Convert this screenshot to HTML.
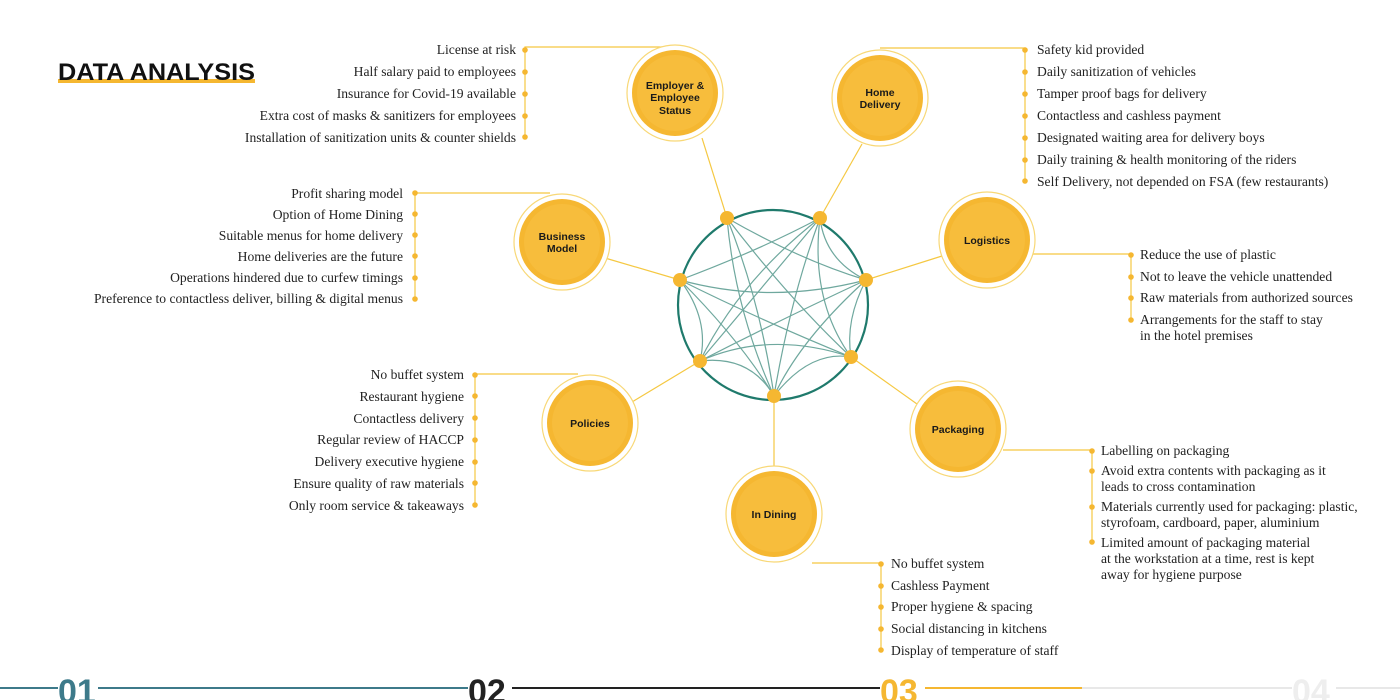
<!DOCTYPE html>
<html><head><meta charset="utf-8"><style>
body{margin:0;background:#fff;width:1400px;height:700px;overflow:hidden}
svg{display:block}
.t{font-family:"Liberation Serif",serif;font-size:13.6px;fill:#222}
.n{font-family:"Liberation Sans",sans-serif;font-size:10.5px;font-weight:bold;fill:#1a1a1a;text-anchor:middle}
.d{fill:#f5b731}
.l{stroke:#f5c842;stroke-width:1.2;fill:none}
.c{stroke:#6fa89e;stroke-width:1.2;fill:none}
.big{font-family:"Liberation Sans",sans-serif;font-size:34px;font-weight:bold}
</style></head><body>
<svg width="1400" height="700" viewBox="0 0 1400 700">
<rect x="58" y="79" width="197" height="4" fill="#f5b731"/>
<text x="58" y="80" font-family="Liberation Sans,sans-serif" font-size="24" font-weight="bold" fill="#111" textLength="197" lengthAdjust="spacingAndGlyphs">DATA ANALYSIS</text>

<g class="l">
<line x1="727" y1="218" x2="702" y2="138"/>
<line x1="820" y1="218" x2="862" y2="144"/>
<line x1="680" y1="280" x2="605" y2="258"/>
<line x1="866" y1="280" x2="942" y2="256"/>
<line x1="700" y1="361" x2="632" y2="402"/>
<line x1="851" y1="357" x2="917" y2="404"/>
<line x1="774" y1="396" x2="774" y2="466"/>
<polyline points="665,47 525,47 525,137"/>
<polyline points="880,48 1025,48 1025,181"/>
<polyline points="550,193 415,193 415,299"/>
<polyline points="1030,254 1131,254 1131,320"/>
<polyline points="578,374 475,374 475,505"/>
<polyline points="1003,450 1092,450 1092,542"/>
<polyline points="812,563 881,563 881,650"/>
</g>

<circle cx="773" cy="305" r="95" fill="none" stroke="#1f7a6c" stroke-width="2.2"/>
<g class="c">
<path d="M727,218 Q760,300 774,396"/>
<path d="M727,218 Q735,310 774,396"/>
<path d="M727,218 Q800,260 866,280"/>
<path d="M727,218 Q790,300 851,357"/>
<path d="M820,218 Q760,250 680,280"/>
<path d="M820,218 Q760,290 700,361"/>
<path d="M820,218 Q790,300 774,396"/>
<path d="M820,218 Q810,300 851,357"/>
<path d="M820,218 Q825,260 866,280"/>
<path d="M680,280 Q770,305 866,280"/>
<path d="M680,280 Q760,320 851,357"/>
<path d="M680,280 Q710,320 700,361"/>
<path d="M680,280 Q740,340 774,396"/>
<path d="M866,280 Q780,320 700,361"/>
<path d="M866,280 Q800,340 774,396"/>
<path d="M866,280 Q845,320 851,357"/>
<path d="M700,361 Q770,330 851,357"/>
<path d="M700,361 Q750,355 774,396"/>
<path d="M774,396 Q810,350 851,357"/>
<path d="M820,218 Q740,280 700,361"/>
</g>
<g class="d">
<circle cx="727" cy="218" r="7"/><circle cx="820" cy="218" r="7"/>
<circle cx="680" cy="280" r="7"/><circle cx="866" cy="280" r="7"/>
<circle cx="700" cy="361" r="7"/><circle cx="851" cy="357" r="7"/>
<circle cx="774" cy="396" r="7"/>
</g>

<g>
<g transform="translate(675,93)"><circle r="48" fill="#fff" stroke="#f8d877" stroke-width="1.2"/><circle r="43" fill="#f5b731"/><circle r="38" fill="#f7bd3c"/></g>
<g transform="translate(880,98)"><circle r="48" fill="#fff" stroke="#f8d877" stroke-width="1.2"/><circle r="43" fill="#f5b731"/><circle r="38" fill="#f7bd3c"/></g>
<g transform="translate(562,242)"><circle r="48" fill="#fff" stroke="#f8d877" stroke-width="1.2"/><circle r="43" fill="#f5b731"/><circle r="38" fill="#f7bd3c"/></g>
<g transform="translate(987,240)"><circle r="48" fill="#fff" stroke="#f8d877" stroke-width="1.2"/><circle r="43" fill="#f5b731"/><circle r="38" fill="#f7bd3c"/></g>
<g transform="translate(590,423)"><circle r="48" fill="#fff" stroke="#f8d877" stroke-width="1.2"/><circle r="43" fill="#f5b731"/><circle r="38" fill="#f7bd3c"/></g>
<g transform="translate(958,429)"><circle r="48" fill="#fff" stroke="#f8d877" stroke-width="1.2"/><circle r="43" fill="#f5b731"/><circle r="38" fill="#f7bd3c"/></g>
<g transform="translate(774,514)"><circle r="48" fill="#fff" stroke="#f8d877" stroke-width="1.2"/><circle r="43" fill="#f5b731"/><circle r="38" fill="#f7bd3c"/></g>
</g>
<text class="n" x="675" y="89">Employer &amp;</text>
<text class="n" x="675" y="101">Employee</text>
<text class="n" x="675" y="114">Status</text>
<text class="n" x="880" y="96">Home</text>
<text class="n" x="880" y="108">Delivery</text>
<text class="n" x="562" y="240">Business</text>
<text class="n" x="562" y="252">Model</text>
<text class="n" x="987" y="244">Logistics</text>
<text class="n" x="590" y="427">Policies</text>
<text class="n" x="958" y="433">Packaging</text>
<text class="n" x="774" y="518">In Dining</text>

<g class="t" text-anchor="end">
<text x="516" y="54">License at risk</text>
<text x="516" y="76">Half salary paid to employees</text>
<text x="516" y="98">Insurance for Covid-19 available</text>
<text x="516" y="120">Extra cost of masks &amp; sanitizers for employees</text>
<text x="516" y="142">Installation of sanitization units &amp; counter shields</text>
<text x="403" y="198">Profit sharing model</text>
<text x="403" y="219">Option of Home Dining</text>
<text x="403" y="240">Suitable menus for home delivery</text>
<text x="403" y="261">Home deliveries are the future</text>
<text x="403" y="282">Operations hindered due to curfew timings</text>
<text x="403" y="303">Preference to contactless deliver, billing &amp; digital menus</text>
<text x="464" y="379">No buffet system</text>
<text x="464" y="401">Restaurant hygiene</text>
<text x="464" y="423">Contactless delivery</text>
<text x="464" y="444">Regular review of HACCP</text>
<text x="464" y="466">Delivery executive hygiene</text>
<text x="464" y="488">Ensure quality of raw materials</text>
<text x="464" y="510">Only room service &amp; takeaways</text>
</g>
<g class="d">
<circle cx="525" cy="50" r="2.8"/><circle cx="525" cy="72" r="2.8"/><circle cx="525" cy="94" r="2.8"/><circle cx="525" cy="116" r="2.8"/><circle cx="525" cy="137" r="2.8"/>
<circle cx="415" cy="193" r="2.8"/><circle cx="415" cy="214" r="2.8"/><circle cx="415" cy="235" r="2.8"/><circle cx="415" cy="256" r="2.8"/><circle cx="415" cy="278" r="2.8"/><circle cx="415" cy="299" r="2.8"/>
<circle cx="475" cy="375" r="2.8"/><circle cx="475" cy="396" r="2.8"/><circle cx="475" cy="418" r="2.8"/><circle cx="475" cy="440" r="2.8"/><circle cx="475" cy="462" r="2.8"/><circle cx="475" cy="483" r="2.8"/><circle cx="475" cy="505" r="2.8"/>
<circle cx="1025" cy="50" r="2.8"/><circle cx="1025" cy="72" r="2.8"/><circle cx="1025" cy="94" r="2.8"/><circle cx="1025" cy="116" r="2.8"/><circle cx="1025" cy="138" r="2.8"/><circle cx="1025" cy="160" r="2.8"/><circle cx="1025" cy="181" r="2.8"/>
<circle cx="1131" cy="255" r="2.8"/><circle cx="1131" cy="277" r="2.8"/><circle cx="1131" cy="298" r="2.8"/><circle cx="1131" cy="320" r="2.8"/>
<circle cx="1092" cy="451" r="2.8"/><circle cx="1092" cy="471" r="2.8"/><circle cx="1092" cy="507" r="2.8"/><circle cx="1092" cy="542" r="2.8"/>
<circle cx="881" cy="564" r="2.8"/><circle cx="881" cy="586" r="2.8"/><circle cx="881" cy="607" r="2.8"/><circle cx="881" cy="629" r="2.8"/><circle cx="881" cy="650" r="2.8"/>
</g>
<g class="t">
<text x="1037" y="54">Safety kid provided</text>
<text x="1037" y="76">Daily sanitization of vehicles</text>
<text x="1037" y="98">Tamper proof bags for delivery</text>
<text x="1037" y="120">Contactless and cashless payment</text>
<text x="1037" y="142">Designated waiting area for delivery boys</text>
<text x="1037" y="164">Daily training &amp; health monitoring of the riders</text>
<text x="1037" y="186">Self Delivery, not depended on FSA (few restaurants)</text>
<text x="1140" y="259">Reduce the use of plastic</text>
<text x="1140" y="281">Not to leave the vehicle unattended</text>
<text x="1140" y="302">Raw materials from authorized sources</text>
<text x="1140" y="324">Arrangements for the staff to stay</text>
<text x="1140" y="340">in the hotel premises</text>
<text x="1101" y="455">Labelling on packaging</text>
<text x="1101" y="475">Avoid extra contents with packaging as it</text>
<text x="1101" y="491">leads to cross contamination</text>
<text x="1101" y="511">Materials currently used for packaging: plastic,</text>
<text x="1101" y="527">styrofoam, cardboard, paper, aluminium</text>
<text x="1101" y="547">Limited amount of packaging material</text>
<text x="1101" y="563">at the workstation at a time, rest is kept</text>
<text x="1101" y="579">away for hygiene purpose</text>
<text x="891" y="568">No buffet system</text>
<text x="891" y="590">Cashless Payment</text>
<text x="891" y="611">Proper hygiene &amp; spacing</text>
<text x="891" y="633">Social distancing in kitchens</text>
<text x="891" y="655">Display of temperature of staff</text>
</g>

<line x1="0" y1="688" x2="470" y2="688" stroke="#3d7a8a" stroke-width="2"/>
<line x1="510" y1="688" x2="882" y2="688" stroke="#222" stroke-width="2"/>
<line x1="925" y1="688" x2="1082" y2="688" stroke="#f5b731" stroke-width="2"/>
<line x1="1082" y1="688" x2="1400" y2="688" stroke="#e8e8e8" stroke-width="2"/>
<rect x="58" y="672" width="40" height="28" fill="#fff"/>
<rect x="468" y="672" width="44" height="28" fill="#fff"/>
<rect x="880" y="672" width="44" height="28" fill="#fff"/>
<rect x="1292" y="672" width="44" height="28" fill="#fff"/>
<text class="big" x="58" y="703" fill="#3d7a8a">01</text>
<text class="big" x="468" y="703" fill="#222">02</text>
<text class="big" x="880" y="703" fill="#f5b731">03</text>
<text class="big" x="1292" y="703" fill="#eeeeee">04</text>
</svg>
</body></html>
